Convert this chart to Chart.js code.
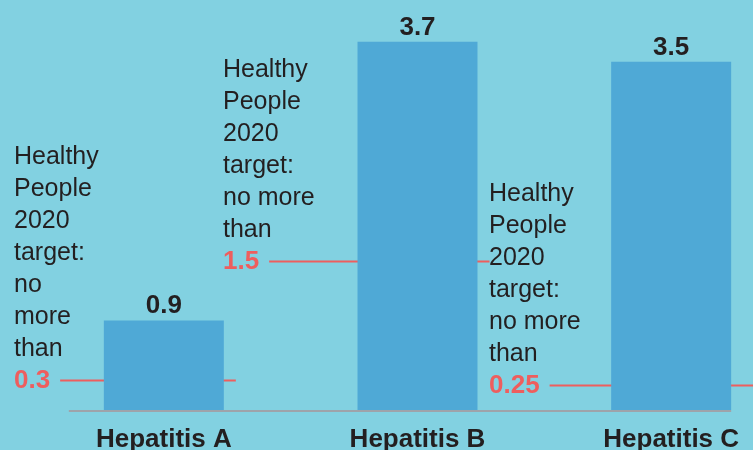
<!DOCTYPE html>
<html>
<head>
<meta charset="utf-8">
<script src="https://cdn.jsdelivr.net/npm/chart.js@4"></script>
<style>
  html, body { margin: 0; padding: 0; background: #82d1e1; }
  #wrap { width: 753px; height: 450px; overflow: hidden; background: #82d1e1; }
</style>
</head>
<body>
<div id="wrap"><canvas id="chart" width="800" height="450"></canvas></div>
<script>
const categories = ['Hepatitis A', 'Hepatitis B', 'Hepatitis C'];
const rates = [0.9, 3.7, 3.5];
const targets = [0.3, 1.5, 0.25];
const targetLabels = ['0.3', '1.5', '0.25'];
const noteLines = [
    ['Healthy', 'People', '2020', 'target:', 'no', 'more', 'than'],
    ['Healthy', 'People', '2020', 'target:', 'no more', 'than'],
    ['Healthy', 'People', '2020', 'target:', 'no more', 'than']
];

const BG = '#82d1e1';
const BAR = '#4fa9d6';
const RED = '#ee5e5e';
const INK = '#231f20';
const FONT = "'Liberation Sans', Arial, sans-serif";

// where each note block starts (left edge of text)
const noteX = [14, 223, 489];

const targetPlugin = {
    id: 'targets',
    beforeDraw(chart) {
        const c = chart.ctx;
        c.save();
        c.fillStyle = BG;
        c.fillRect(0, 0, chart.width, chart.height);
        c.restore();
    },
    beforeDatasetsDraw(chart) {
        const c = chart.ctx;
        const y = chart.scales.y;
        const bars = chart.getDatasetMeta(0).data;
        c.save();
        c.font = `bold 26px ${FONT}`;
        c.strokeStyle = RED;
        c.lineWidth = 2;
        targets.forEach((t, i) => {
            const py = Math.round(y.getPixelForValue(t)) + 0.5;
            const x0 = noteX[i] + c.measureText(targetLabels[i]).width + 10;
            const bar = bars[i];
            const x1 = i === targets.length - 1 ? chart.width : bar.x + bar.width / 2 + 12;
            c.beginPath();
            c.moveTo(x0, py);
            c.lineTo(x1, py);
            c.stroke();
        });
        c.restore();
    },
    afterDatasetsDraw(chart) {
        const c = chart.ctx;
        const y = chart.scales.y;
        const bars = chart.getDatasetMeta(0).data;
        c.save();

        // baseline
        const first = bars[0], last = bars[bars.length - 1];
        c.strokeStyle = '#9ea3aa';
        c.lineWidth = 2;
        c.beginPath();
        c.moveTo(first.x - first.width / 2 - 35, chart.chartArea.bottom + 1);
        c.lineTo(last.x + last.width / 2, chart.chartArea.bottom + 1);
        c.stroke();

        // value labels over bars
        c.fillStyle = INK;
        c.font = `bold 26px ${FONT}`;
        c.textAlign = 'center';
        c.textBaseline = 'alphabetic';
        bars.forEach((b, i) => {
            c.fillText(rates[i].toFixed(1), b.x, b.y - 7);
        });

        // target notes
        c.textAlign = 'left';
        targets.forEach((t, i) => {
            const base = y.getPixelForValue(t) + 8;
            c.font = `bold 26px ${FONT}`;
            c.fillStyle = RED;
            c.fillText(targetLabels[i], noteX[i], base);
            c.font = `25px ${FONT}`;
            c.fillStyle = INK;
            const lines = noteLines[i];
            lines.forEach((ln, k) => {
                c.fillText(ln, noteX[i], base - 32 * (lines.length - k));
            });
        });
        c.restore();
    }
};

new Chart(document.getElementById('chart'), {
    type: 'bar',
    data: {
        labels: categories,
        datasets: [{
            data: rates,
            backgroundColor: BAR,
            borderWidth: 0,
            barPercentage: 0.473,
            categoryPercentage: 1
        }]
    },
    options: {
        responsive: false,
        animation: false,
        layout: { padding: { left: 37, right: 2, top: 0, bottom: 0 } },
        plugins: {
            legend: { display: false },
            tooltip: { enabled: false }
        },
        scales: {
            x: {
                grid: { display: false, drawTicks: false },
                border: { display: false },
                ticks: {
                    color: INK,
                    font: { family: FONT, size: 26, weight: 'bold' },
                    padding: 14
                },
                afterFit(axis) { axis.height = 40; }
            },
            y: {
                display: false,
                min: 0,
                max: 4.12
            }
        }
    },
    plugins: [targetPlugin]
});
</script>
</body>
</html>
